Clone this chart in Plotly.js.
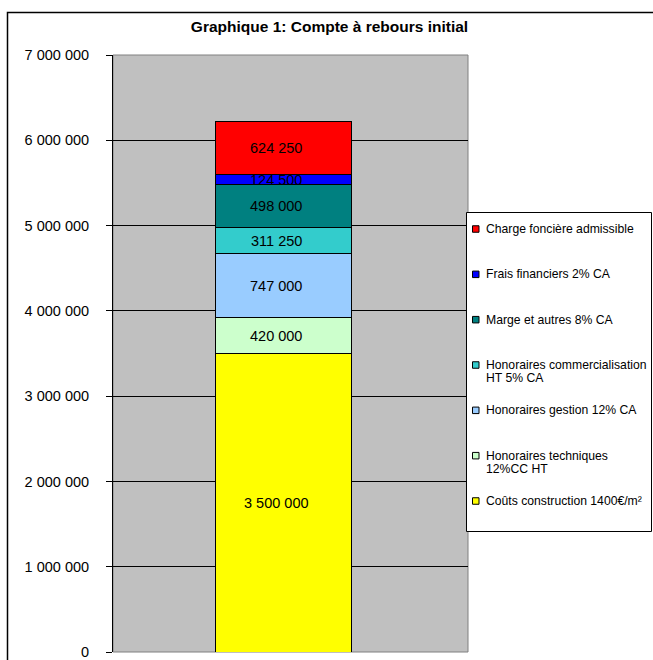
<!DOCTYPE html>
<html><head><meta charset="utf-8">
<script src="https://cdn.plot.ly/plotly-3.0.1.min.js"></script>
<style>html,body{margin:0;padding:0;background:#fff;}</style>
</head><body><div id="chart" style="width:653px;height:660px;"></div>
<script>
// bottom to top
var categories = [''];
var seriesNames = [
  'Coûts construction 1400€/m²',
  'Honoraires techniques<br>12%CC HT',
  'Honoraires gestion 12% CA',
  'Honoraires commercialisation<br>HT 5% CA',
  'Marge et autres 8% CA',
  'Frais financiers 2% CA',
  'Charge foncière admissible'
];
var seriesValues = [3500000, 420000, 747000, 311250, 498000, 124500, 624250];
var seriesColors = ['#FFFF00', '#CCFFCC', '#99CCFF', '#33CCCC', '#008080', '#0000FF', '#FF0000'];
var yTickValues = [0, 1000000, 2000000, 3000000, 4000000, 5000000, 6000000, 7000000];

var FONT = 'Liberation Sans, Arial, sans-serif';
function fmt(v){ return String(Math.round(v)).replace(/\B(?=(\d{3})+(?!\d))/g, ' '); }

var W = 653, H = 660, L = 113, R = 185, T = 55, B = 8;
var pw = W - L - R, ph = H - T - B;
function px(x){ return (x - L) / pw; }
function py(y){ return (H - B - y) / ph; }

var traces = [];
var annotations = [];
var shapes = [
  {type: 'rect', xref: 'paper', yref: 'paper', x0: 0, x1: 1, y0: 0, y1: 1, line: {color: '#808080', width: 1}, layer: 'below'},
  {type: 'rect', xref: 'paper', yref: 'paper', x0: px(7.5), x1: px(660), y0: py(12.5), y1: py(680), line: {color: '#000', width: 1.5}},
  // legend box
  {type: 'rect', xref: 'paper', yref: 'paper', x0: px(466.5), x1: px(651.5), y0: py(212.5), y1: py(531.5), line: {color: '#000', width: 1}, fillcolor: '#fff'}
];
var cum = 0;
var n = seriesValues.length;
var legTop = 229, legBot = 501, legStep = (legBot - legTop) / (n - 1);
for (var i = 0; i < n; i++) {
  traces.push({
    type: 'bar', x: categories, y: [seriesValues[i]], name: seriesNames[i],
    marker: {color: seriesColors[i], line: {color: '#000', width: 1}},
    width: 0.383, hoverinfo: 'y+name', showlegend: false
  });
  annotations.push({
    x: 0, y: cum + seriesValues[i] / 2, xref: 'x', yref: 'y', xshift: -7,
    text: fmt(seriesValues[i]), showarrow: false,
    font: {family: FONT, size: 14.5, color: '#000'}
  });
  cum += seriesValues[i];
  // custom legend entry (top series first)
  var k = n - 1 - i;
  var yc = legTop + k * legStep;
  shapes.push({type: 'rect', xref: 'paper', yref: 'paper', x0: px(472.5), x1: px(479), y0: py(yc - 3.25), y1: py(yc + 3.25),
               fillcolor: seriesColors[i], line: {color: '#000', width: 1}});
  var lines = seriesNames[i].split('<br>');
  for (var j = 0; j < lines.length; j++) {
    annotations.push({
      x: px(484), y: py(yc + j * 13.3), xref: 'paper', yref: 'paper', xanchor: 'left', yanchor: 'middle',
      text: lines[j], showarrow: false, font: {family: FONT, size: 12.2, color: '#000'}
    });
  }
}

var layout = {
  width: W, height: H,
  margin: {l: L, r: R, t: T, b: B, pad: 0, autoexpand: false},
  paper_bgcolor: '#fff', plot_bgcolor: '#C0C0C0',
  separators: ', ',
  barmode: 'stack',
  showlegend: false,
  font: {family: FONT, color: '#000'},
  title: {text: '<b>Graphique 1: Compte à rebours initial</b>', x: 329.5/653, xanchor: 'center', y: 1 - 27/660, yanchor: 'middle',
          font: {family: FONT, size: 15.5, color: '#000'}},
  xaxis: {range: [-0.479, 0.521], showticklabels: false, showgrid: false, zeroline: false, ticks: '', fixedrange: true},
  yaxis: {range: [0, 7000000], tickvals: yTickValues, tickformat: ',d', ticks: 'outside', ticklen: 6,
          tickcolor: '#000', showgrid: true, gridcolor: '#000', gridwidth: 1, zeroline: false,
          showline: true, linecolor: '#000', linewidth: 1, ticklabelstandoff: 14, ticklabeloverflow: 'allow',
          tickfont: {family: FONT, size: 14.5, color: '#000'}},
  annotations: annotations,
  shapes: shapes
};
Plotly.newPlot('chart', traces, layout, {displayModeBar: false, staticPlot: true});
</script></body></html>
